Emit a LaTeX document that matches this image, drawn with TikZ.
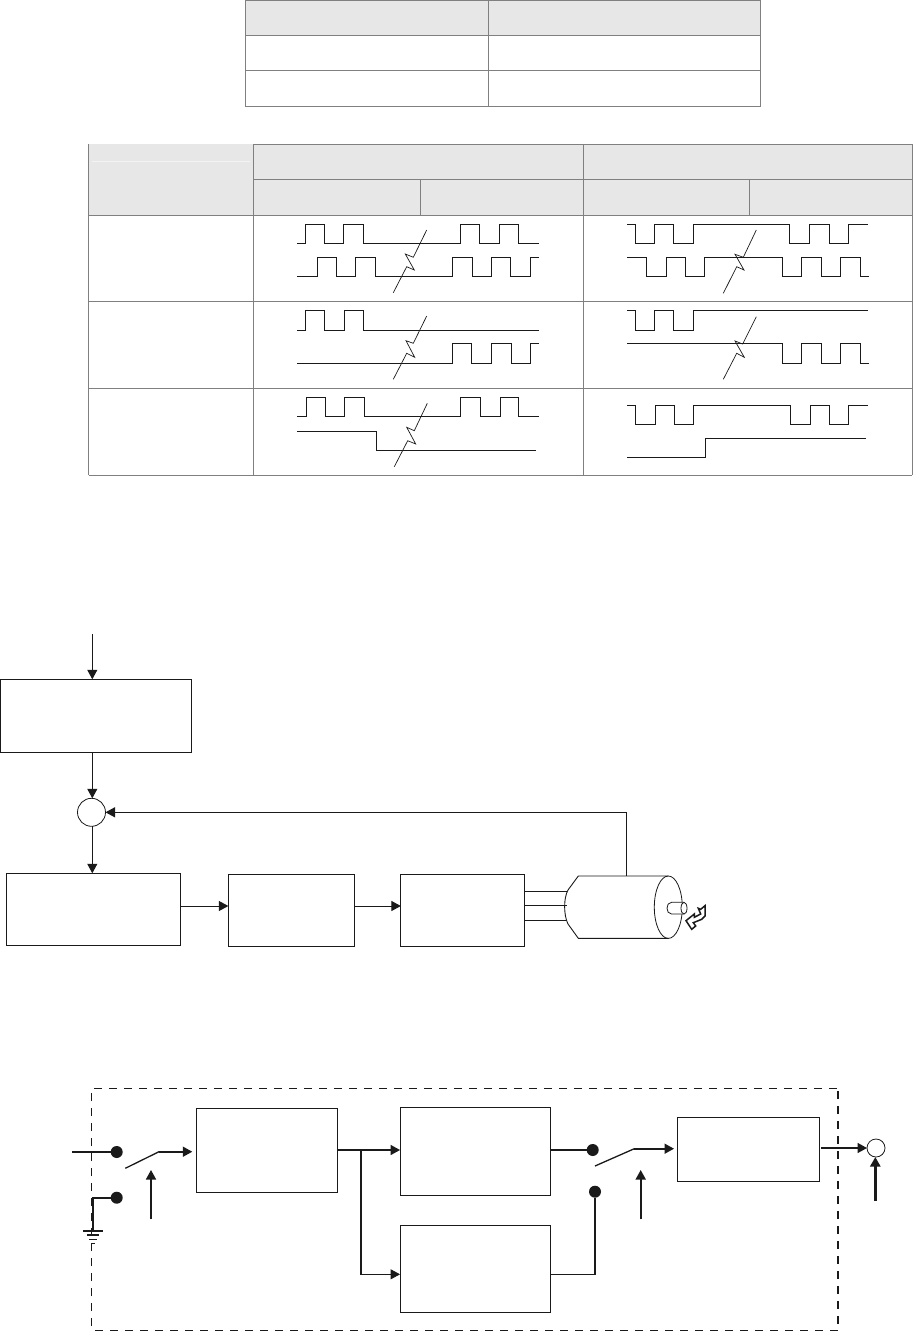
\documentclass[tikz,border=0pt]{standalone}
\usepackage{tikz}
\usetikzlibrary{arrows.meta, positioning, calc}
\definecolor{gridgray}{RGB}{128, 128, 128}
\definecolor{headgray}{RGB}{231, 231, 231}
\definecolor{inkblack}{RGB}{26, 26, 26}

\begin{document}
\begin{tikzpicture}[
  x=1pt, y=-1pt,
  grid/.style={gridgray, line width=1pt},
  trace/.style={inkblack, line width=0.9pt, line join=miter},
  breakmark/.style={inkblack, line width=0.7pt},
  blockbox/.style={rectangle, draw=inkblack, line width=1pt, fill=white, inner sep=0pt, outer sep=0pt},
  joint/.style={circle, draw=inkblack, line width=0.8pt, fill=white, inner sep=0pt, outer sep=0pt},
  contact/.style={circle, fill=inkblack, inner sep=0pt, outer sep=0pt, minimum size=12pt},
  arrow/.style={-{Triangle[length=9.5pt, width=10pt]}, inkblack, line width=1pt},
  heavy/.style={arrow, line width=1.6pt},
  wire/.style={inkblack, line width=1pt},
  boldwire/.style={inkblack, line width=1.6pt},
  boundary/.style={inkblack, line width=0.9pt, dash pattern=on 8pt off 7pt}
]
  \path[fill=white, use as bounding box] (0,0) rectangle (913,1332);

  \fill[headgray] (245,0) rectangle (760,36);
  \foreach \y in {0.5, 36, 71, 107}
    \draw[grid] (245,\y) -- (760.5,\y);
  \foreach \x in {245, 488, 760.5}
    \draw[grid] (\x,0) -- (\x,107);

  \fill[headgray] (88.5,144.5) rectangle (912,215.5);
  \draw[headgray!50, line width=0.6pt] (92,161) -- (250,161);
  \draw[grid] (253.5,144.5) -- (912,144.5);
  \draw[grid] (253.5,179.5) -- (912,179.5);
  \foreach \y in {215.5, 301, 388, 475}
    \draw[grid] (88.5,\y) -- (912,\y);
  \foreach \x in {88.5, 253.5, 583.5, 912}
    \draw[grid] (\x,144.5) -- (\x,475);
  \foreach \x in {420, 749}
    \draw[grid] (\x,179.5) -- (\x,215.5);

  \draw[trace] (297,243.5) -| (305.3,224) -| (324.3,243.5) -| (343.7,224) -| (363.7,243.5) -| (460,224) -| (479.7,243.5) -| (499.3,224) -| (518.7,243.5) -- (538.7,243.5);
  \draw[trace] (297,276.7) -| (317,257) -| (336.7,276.7) -| (355.7,257) -| (375,276.7) -| (452.7,257) -| (472,276.7) -| (491.3,257) -| (510.7,276.7) -| (530.7,257) -- (538.7,257);
  \draw[breakmark] (426.7,230) -- (413.3,257.3) -- (405.3,254) -- (414.3,270) -- (406.7,266.7) -- (393.3,292.7);

  \draw[trace] (297.3,330) -| (305.3,310.7) -| (324.7,330) -| (344,310.7) -| (363.7,330) -- (538.7,330);
  \draw[trace] (297.3,363) -| (452.7,343.7) -| (471.7,363) -| (491.3,343.7) -| (511,363) -| (530.7,343.7) -- (538.7,343.7);
  \draw[breakmark] (426.7,316) -- (413.3,343.3) -- (406,340.7) -- (414.7,357.3) -- (406.7,353.3) -- (393.3,379.3);

  \draw[trace] (297.3,416.7) -| (306,397.3) -| (325.3,416.7) -| (344.7,397.3) -| (364.3,416.7) -| (460.7,397.3) -| (480.3,416.7) -| (500,397.3) -| (518.7,416.7) -- (538.7,416.7);
  \draw[trace] (297.3,431.3) -| (376,450.3) -- (536,450.3);
  \draw[breakmark] (427.3,403.3) -- (414.3,430.7) -- (406.7,427.3) -- (415.7,444) -- (407.7,440.7) -- (394.3,466.7);

  \draw[trace] (627,224) -| (635,243.3) -| (654,224) -| (673.7,243.3) -| (693.3,224) -| (789.7,243.3) -| (809.3,224) -| (829,243.3) -| (848.3,224) -- (868,224);
  \draw[trace] (627,257.3) -| (646.7,276.7) -| (666,257.3) -| (685.3,276.7) -| (704.7,257.3) -| (782.3,276.7) -| (801.3,257.3) -| (821,276.7) -| (840.7,257.3) -| (860,276.7) -- (868.7,276.7);
  \draw[breakmark] (756.3,230) -- (743.3,257.3) -- (735,254.3) -- (744,270) -- (736.7,266.7) -- (723.3,293.3);

  \draw[trace] (627,310.3) -| (635,330) -| (654.3,310.3) -| (673.7,330) -| (693.3,310.3) -- (868,310.3);
  \draw[trace] (627,343.7) -| (782.3,363.7) -| (801.3,343.7) -| (821,363.7) -| (840.7,343.7) -| (860,363.7) -- (868.7,363.7);
  \draw[breakmark] (756.3,316.7) -- (742.7,344) -- (735,341) -- (744.3,357.3) -- (736.7,353.3) -- (723.3,379.3);

  \draw[trace] (627,405.3) -| (635.7,424.3) -| (655,405.3) -| (674.3,424.3) -| (693.7,405.3) -| (790.3,424.3) -| (810,405.3) -| (829.7,424.3) -| (848.7,405.3) -- (868,405.3);
  \draw[trace] (627,457.7) -| (705.7,438.7) -- (866,438.7);

  \coordinate (cmdin) at (92.3,634);
  \node[blockbox, minimum width=191pt, minimum height=73pt] (cmdbox) at (96,715.8) {};
  \node[joint, minimum size=28pt] (sumjoint) at (91.5,812.3) {};
  \node[blockbox, minimum width=174pt, minimum height=72pt] (ctrlbox) at (93.3,909.3) {};
  \node[blockbox, minimum width=126.5pt, minimum height=72pt] (ampbox) at (291.6,910.2) {};
  \node[blockbox, minimum width=123.5pt, minimum height=72.7pt] (drvbox) at (462.6,910.6) {};

  \coordinate (motortop) at (626.7,876);

  \draw[arrow] (cmdin) -- (cmdin |- cmdbox.north);
  \draw[arrow] (cmdin |- cmdbox.south) -- (cmdin |- sumjoint.north);
  \draw[arrow] (cmdin |- sumjoint.south) -- (cmdin |- ctrlbox.north);
  \draw[arrow] ($(ctrlbox.east)+(0,-3.3)$) -- ($(ampbox.west)+(0,-4.2)$);
  \draw[arrow] ($(ampbox.east)+(0,-4.2)$) -- ($(drvbox.west)+(0,-4.6)$);
  \draw[arrow] (motortop) |- (sumjoint.east);

  \foreach \y in {891, 905.7, 920.7}
    \draw[wire, line width=0.8pt] (drvbox.east |- 0,\y) -- (567,\y);
  \draw[wire, line width=0.9pt] (668.3,876) -- (578.3,876) -- (568,890) .. controls (563.5,898) and (563.5,915) .. (568,924) -- (578.3,938.3) -- (668.3,938.3);
  \draw[wire, line width=0.8pt] (668.3,907.2) ellipse (14pt and 31.2pt);
  \draw[wire, line width=0.8pt, fill=white] (683.5,902.3) -- (671.5,902.3) .. controls (665.5,902.3) and (665.5,914) .. (671.5,914) -- (683.5,914);
  \draw[wire, line width=0.8pt] (684,908.2) ellipse (3pt and 5.9pt);
  \draw[wire, line width=1.5pt, line join=miter] (686,920.7) -- (694.3,914) -- (694.3,917.3) -- (700.7,914) -- (698.3,908.3) -- (700.7,909.3) -- (705,905.7) -- (705,916) -- (701.7,919.3) -- (693.3,922.7) -- (695.7,926) -- (691.7,929.3) -- cycle;

  \draw[boundary] (837.7,1330) -- (91.7,1330) -- (91.7,1088.3) -- (837.7,1088.3);
  \draw[boundary, line width=1.6pt] (837.7,1091) -- (837.7,1330);

  \node[blockbox, minimum width=141pt, minimum height=84pt] (filterbox) at (266.8,1150.3) {};
  \node[blockbox, minimum width=150.3pt, minimum height=88.4pt] (gainbox) at (475.2,1151.5) {};
  \node[blockbox, minimum width=150.3pt, minimum height=87pt] (holdbox) at (475.2,1268.8) {};
  \node[blockbox, minimum width=142pt, minimum height=64pt] (outbox) at (748.3,1149.3) {};
  \node[joint, minimum size=18pt] (outjoint) at (876,1148) {};

  \node[contact] (contacta) at (116.7,1152) {};
  \node[contact] (contactb) at (116.7,1197.7) {};
  \node[contact] (contactc) at (592.7,1150) {};
  \node[contact] (contactd) at (595,1191.7) {};

  \coordinate (signalin) at (72,1152);
  \coordinate (earth) at (92.7,1231);
  \coordinate (bladea) at (125.3,1168.3);
  \coordinate (hingea) at (159,1151.7);
  \coordinate (ctrla) at (151,1219.3);
  \coordinate (bladeb) at (595,1166);
  \coordinate (hingeb) at (634.3,1148.7);
  \coordinate (ctrlb) at (640.7,1219.3);
  \coordinate (splitpt) at (360.7,1150);
  \coordinate (ctrlout) at (875.3,1200.7);

  \draw[boldwire] (signalin) -- (contacta);
  \draw[boldwire] (contactb) -| (earth);
  \draw[inkblack, line width=1.4pt] (83.3,1231) -- (102.7,1231);
  \draw[inkblack, line width=1.2pt] (87.3,1235) -- (99.3,1235);
  \draw[inkblack, line width=1.2pt] (89.3,1239.3) -- (96.7,1239.3);
  \draw[inkblack, line width=1.2pt] (91,1243.3) -- (95,1243.3);

  \draw[wire, line width=1.3pt] (bladea) -- (hingea);
  \draw[heavy] (hingea) -- (192.3,1151.7);
  \draw[heavy] (ctrla) -- (151,1170);

  \draw[heavy] (filterbox.east |- splitpt) -- (gainbox.west |- splitpt);
  \draw[boldwire] (splitpt) |- (363,1274.3);
  \draw[arrow] (360.7,1274.3) -- (holdbox.west |- 0,1274.3);

  \draw[boldwire] (gainbox.east |- contactc) -- (contactc);
  \draw[wire] (holdbox.east |- 0,1274.3) -| (contactd);
  \draw[boldwire] (595,1274.3) -- (contactd);

  \draw[wire, line width=1.3pt] (bladeb) -- (hingeb);
  \draw[heavy] (hingeb) -- (674,1148.7);
  \draw[heavy] (ctrlb) -- (640.7,1170);

  \draw[heavy] (821,1148) -- (outjoint.west);
  \draw[heavy, line width=2.6pt] (ctrlout) -- (outjoint.south -| ctrlout);
\end{tikzpicture}
\end{document}
